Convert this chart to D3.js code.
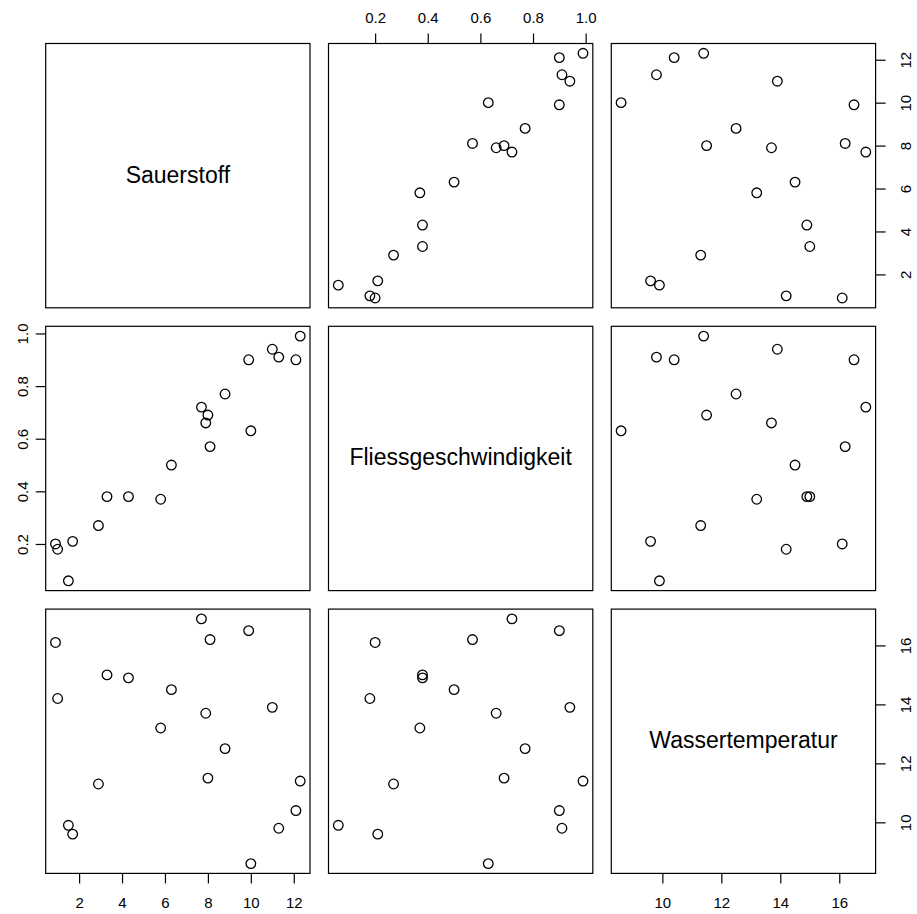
<!DOCTYPE html>
<html>
<head>
<meta charset="utf-8">
<script src="https://cdn.jsdelivr.net/npm/d3@7"></script>
<style>
  body { margin: 0; background: white; }
  text { font-family: "Liberation Sans", Arial, Helvetica, sans-serif; }
</style>
</head>
<body>
<script>
// Variable names shown on the diagonal
const varNames = ["Sauerstoff", "Fliessgeschwindigkeit", "Wassertemperatur"];

const sauerstoff = [12.3, 11.0, 11.3, 12.1, 9.9, 8.8, 7.7, 8.0, 7.9, 10.0, 8.1, 6.3, 3.3, 4.3, 5.8, 2.9, 0.9, 1.0, 1.7, 1.5];
const fliess = [0.99, 0.94, 0.91, 0.90, 0.90, 0.77, 0.72, 0.69, 0.66, 0.63, 0.57, 0.50, 0.38, 0.38, 0.37, 0.27, 0.20, 0.18, 0.21, 0.06];
const wasser = [11.4, 13.9, 9.8, 10.4, 16.5, 12.5, 16.9, 11.5, 13.7, 8.6, 16.2, 14.5, 15.0, 14.9, 13.2, 11.3, 16.1, 14.2, 9.6, 9.9];

// Tick labels of each variable
const sauerstoffTicks = [2, 4, 6, 8, 10, 12];
const fliessTicks = [0.2, 0.4, 0.6, 0.8, 1.0];
const wasserTicks = [10, 12, 14, 16];

const columns = [sauerstoff, fliess, wasser];
const tickLists = [sauerstoffTicks, fliessTicks, wasserTicks];
const tickFormats = [d3.format("d"), d3.format(".1f"), d3.format("d")];

let width = 917,
    height = 914;

// panel layout
let panelLeft = 45.7,
    panelTop = 43.5,
    size = 264.3,
    gap = 18.5;

let svg = d3.select('body')
    .append('svg')
    .attr('width', width)
    .attr('height', height)
    .style('background', 'white');

// R style ranges: data extent padded by 4% on each side
function paddedScale(values, r0, r1) {
    let ext = d3.extent(values);
    let pad = (ext[1] - ext[0]) * 0.04;
    return d3.scaleLinear().domain([ext[0] - pad, ext[1] + pad]).range([r0, r1]);
}

const nVar = columns.length;
const xScales = [], yScales = [];
for (let k = 0; k < nVar; k++) {
    let x0 = panelLeft + k * (size + gap);
    let y0 = panelTop + k * (size + gap);
    xScales.push(paddedScale(columns[k], x0, x0 + size));
    yScales.push(paddedScale(columns[k], y0 + size, y0));
}

const tickLen = 10;
const fontSize = 15;

// Draw each panel
for (let i = 0; i < nVar; i++) {
    for (let j = 0; j < nVar; j++) {
        let px = panelLeft + j * (size + gap);
        let py = panelTop + i * (size + gap);

        if (i === j) {
            svg.append('text')
                .attr('x', px + size / 2)
                .attr('y', py + size / 2)
                .attr('dy', '0.3em')
                .attr('text-anchor', 'middle')
                .style('font-size', '23px')
                .text(varNames[i]);
        } else {
            let pts = columns[j].map((v, n) => [v, columns[i][n]]);
            svg.append('g')
                .selectAll('circle')
                .data(pts)
                .enter().append('circle')
                .attr('cx', d => xScales[j](d[0]))
                .attr('cy', d => yScales[i](d[1]))
                .attr('r', 4.8)
                .attr('fill', 'none')
                .attr('stroke', 'black')
                .attr('stroke-width', 1.3);
        }

        // panel box
        svg.append('rect')
            .attr('x', px)
            .attr('y', py)
            .attr('width', size)
            .attr('height', size)
            .attr('fill', 'none')
            .attr('stroke', 'black')
            .attr('stroke-width', 1.2);
    }
}

// Axes alternate around the matrix like in R's pairs()
function addAxis(axis, transform, textOffset, rotate) {
    let g = svg.append('g')
        .attr('transform', transform)
        .call(axis.tickSize(tickLen).tickSizeOuter(0));
    g.select('.domain').remove();
    g.selectAll('.tick line').attr('stroke-width', 1.2);
    let t = g.selectAll('.tick text')
        .style('font-size', fontSize + 'px')
        .style('font-family', '"Liberation Sans", Arial, sans-serif')
        .attr('fill', 'black')
        .attr('text-anchor', 'middle')
        .attr('x', 0)
        .attr('y', 0)
        .attr('dy', '0.35em');
    if (rotate) {
        t.attr('transform', `translate(${textOffset},0) rotate(-90)`);
    } else {
        t.attr('transform', `translate(0,${textOffset})`);
    }
}

for (let k = 0; k < nVar; k++) {
    let axisX = k % 2 === 0 ? d3.axisBottom(xScales[k]) : d3.axisTop(xScales[k]);
    axisX.tickValues(tickLists[k]).tickFormat(tickFormats[k]);
    if (k % 2 === 0) {
        addAxis(axisX, `translate(0,${panelTop + (nVar - 1) * (size + gap) + size})`, 29, false);
    } else {
        addAxis(axisX, `translate(0,${panelTop})`, -26, false);
    }

    let axisY = k % 2 === 0 ? d3.axisRight(yScales[k]) : d3.axisLeft(yScales[k]);
    axisY.tickValues(tickLists[k]).tickFormat(tickFormats[k]);
    if (k % 2 === 0) {
        addAxis(axisY, `translate(${panelLeft + (nVar - 1) * (size + gap) + size},0)`, 30, true);
    } else {
        addAxis(axisY, `translate(${panelLeft},0)`, -23, true);
    }
}
</script>
</body>
</html>
